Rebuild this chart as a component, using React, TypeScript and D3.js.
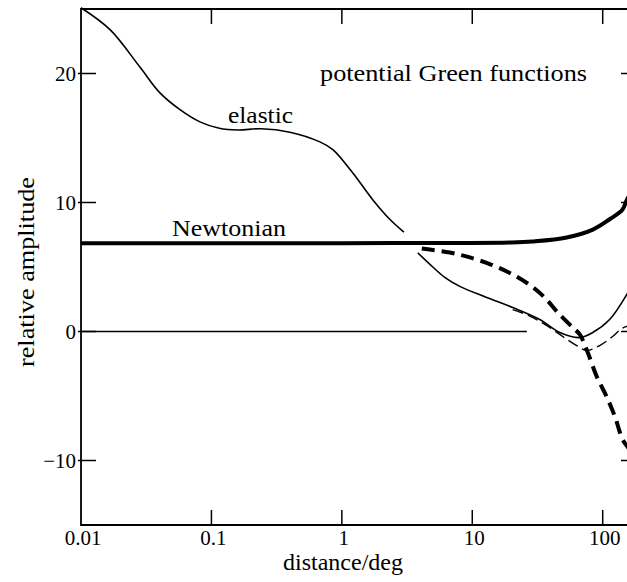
import * as React from "react";
import * as d3 from "d3";

// values: [distance in deg, relative amplitude]
const elastic: [number, number][] = [
  [0.01, 25.1], [0.0167, 23.4], [0.0283, 20.5], [0.0403, 18.5], [0.0574, 17.2],
  [0.0817, 16.25], [0.115, 15.75], [0.16, 15.62], [0.24, 15.72], [0.4, 15.45], [0.678, 14.7],
  [0.853, 14.1], [1.21, 12.3], [1.73, 10.2], [2.33, 8.7], [2.99, 7.7],
];
const elasticFar: [number, number][] = [
  [3.82, 6.1], [4.98, 5.0], [6.15, 4.2], [8.02, 3.5], [12.9, 2.64], [20.4, 1.86],
  [32.9, 0.93], [46.8, -0.08], [66.7, -0.47], [83.8, -0.08], [113, 0.93],
  [153, 2.87], [176, 4.0],
];
const newtonian: [number, number][] = [
  [0.01, 6.85], [1, 6.85], [20, 6.9], [29, 6.98], [53, 7.29], [84, 7.9],
  [113, 8.7], [142, 9.46], [153, 10.2], [180, 11.3],
];
const thickDashed: [number, number][] = [
  [4.1, 6.43], [6.73, 6.12], [9.58, 5.74], [13.9, 5.19], [19.1, 4.57], [26.6, 3.72],
  [35.3, 2.71], [45.2, 1.47], [58.9, 0.31], [66.7, -0.23], [76.8, -1.63],
  [90, -3.49], [107, -5.04], [124, -6.59], [142, -8.37], [161, -9.2], [180, -10.6],
];
const thinDashed: [number, number][] = [
  [20.4, 1.7], [27.6, 1.2], [37.3, 0.45], [49.4, -0.39], [63.2, -1.09], [75.4, -1.47],
  [94.8, -1.09], [119, -0.39], [140, 0.23], [165, 0.5],
];
const zeroLine: [number, number][] = [[0.01, 0], [26.2, 0]];

const xTicks = [0.01, 0.1, 1, 10, 100];
const xTickLabels = ["0.01", "0.1", "1", "10", "100"];
const yTicks = [-10, 0, 10, 20];
const yTickLabels = ["\u221210", "0", "10", "20"];

const App = () => {
  const width = 627;
  const height = 582;
  const left = 81;
  const right = 636;
  const top = 9;
  const bottom = 525;

  const x = d3.scaleLog().domain([0.01, 180]).range([left, right]);
  const y = d3.scaleLinear().domain([-15, 25]).range([bottom, top]);

  const line = d3
    .line<[number, number]>()
    .x(d => x(d[0]))
    .y(d => y(d[1]))
    .curve(d3.curveCatmullRom.alpha(0.5));

  const font = "'Liberation Serif', 'Times New Roman', serif";
  const tickLen = 15;

  return (
    <svg width={width} height={height} style={{ position: "absolute", left: 0, top: 0, background: "#fff" }}>
      {/* frame */}
      <path
        d={`M${right},${top}H${left}V${bottom}H${right}`}
        fill="none"
        stroke="#000"
        strokeWidth={1.8}
      />
      <line x1={right} x2={right} y1={top} y2={bottom} stroke="#000" strokeWidth={1.8} />

      {xTicks.slice(1).map(t => (
        <g key={"xt" + t}>
          <line x1={x(t)} x2={x(t)} y1={top} y2={top + tickLen} stroke="#000" strokeWidth={1.5} />
          <line x1={x(t)} x2={x(t)} y1={bottom} y2={bottom - tickLen} stroke="#000" strokeWidth={1.5} />
        </g>
      ))}
      {yTicks.map(t => (
        <g key={"yt" + t}>
          <line x1={left - 3} x2={left + tickLen} y1={y(t)} y2={y(t)} stroke="#000" strokeWidth={1.5} />
          <line x1={right} x2={right - tickLen} y1={y(t)} y2={y(t)} stroke="#000" strokeWidth={1.5} />
        </g>
      ))}

      {xTicks.map((t, i) => (
        <text key={"xl" + t} x={x(t) + 2} y={545} textAnchor="middle" fontFamily={font} fontSize={21}>
          {xTickLabels[i]}
        </text>
      ))}
      {yTicks.map((t, i) => (
        <text key={"yl" + t} x={76} y={y(t) + 7} textAnchor="end" fontFamily={font} fontSize={21}>
          {yTickLabels[i]}
        </text>
      ))}

      {/* curves */}
      <path d={line(zeroLine) ?? ""} fill="none" stroke="#000" strokeWidth={1.3} />
      <path d={line(newtonian) ?? ""} fill="none" stroke="#000" strokeWidth={4} />
      <path d={line(elastic) ?? ""} fill="none" stroke="#000" strokeWidth={1.6} />
      <path d={line(elasticFar) ?? ""} fill="none" stroke="#000" strokeWidth={1.6} />
      <path d={line(thinDashed) ?? ""} fill="none" stroke="#000" strokeWidth={1.4} strokeDasharray="11 5" />
      <path d={line(thickDashed) ?? ""} fill="none" stroke="#000" strokeWidth={4} strokeDasharray="13 7" />

      {/* annotations */}
      <text x={320} y={81} fontFamily={font} fontSize={24} textLength={267} lengthAdjust="spacingAndGlyphs">
        potential Green functions
      </text>
      <text x={228} y={123} fontFamily={font} fontSize={24} textLength={65} lengthAdjust="spacingAndGlyphs">
        elastic
      </text>
      <text x={172} y={236} fontFamily={font} fontSize={24} textLength={114} lengthAdjust="spacingAndGlyphs">
        Newtonian
      </text>

      <text
        transform={`translate(34,${272}) rotate(-90)`}
        textAnchor="middle"
        fontFamily={font}
        fontSize={24}
        textLength={190}
        lengthAdjust="spacingAndGlyphs"
      >
        relative amplitude
      </text>
      <text x={343} y={570} textAnchor="middle" fontFamily={font} fontSize={24} textLength={120} lengthAdjust="spacingAndGlyphs">
        distance/deg
      </text>
    </svg>
  );
};

export default App;
